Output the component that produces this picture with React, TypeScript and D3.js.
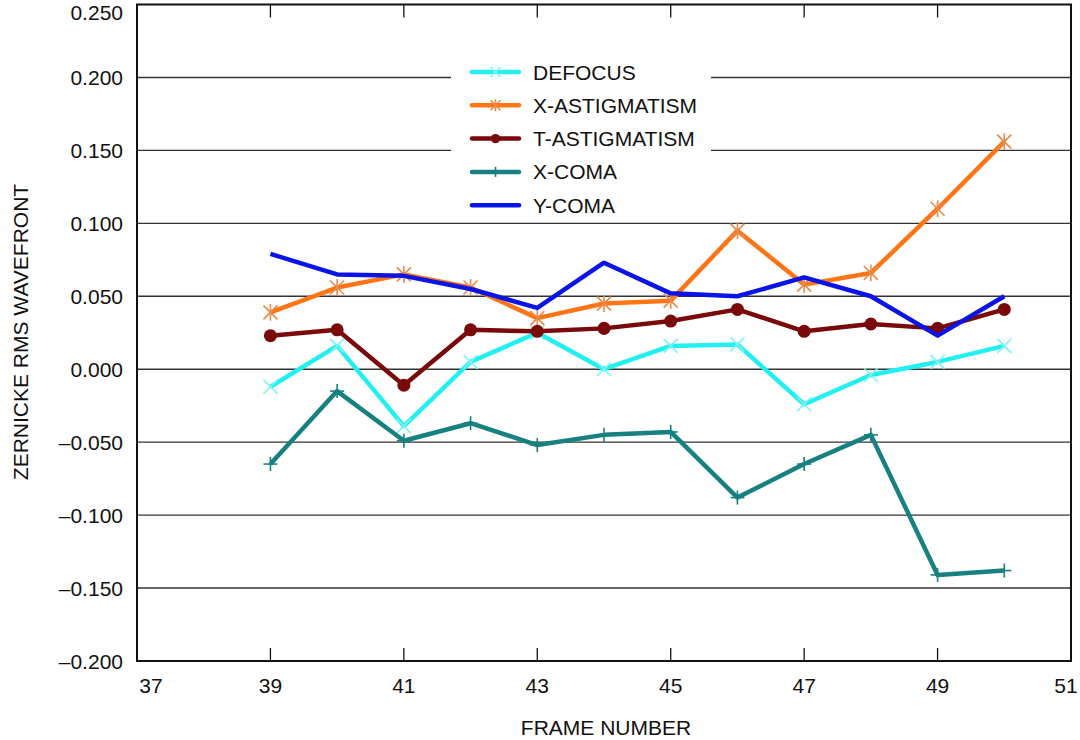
import React, { useEffect, useRef } from "react";
import * as d3 from "d3";

const frames = [39, 40, 41, 42, 43, 44, 45, 46, 47, 48, 49, 50];
const defocus = [-0.012, 0.016, -0.039, 0.005, 0.025, 0.0, 0.016, 0.017, -0.024, -0.004, 0.005, 0.016];
const xAstig = [0.039, 0.056, 0.065, 0.056, 0.035, 0.045, 0.047, 0.095, 0.058, 0.066, 0.11, 0.156];
const tAstig = [0.023, 0.027, -0.011, 0.027, 0.026, 0.028, 0.033, 0.041, 0.026, 0.031, 0.028, 0.041];
const xComa = [-0.065, -0.015, -0.049, -0.037, -0.052, -0.045, -0.043, -0.088, -0.065, -0.045, -0.141, -0.138];
const yComa = [0.079, 0.065, 0.064, 0.055, 0.042, 0.073, 0.052, 0.05, 0.063, 0.05, 0.023, 0.05];

const xTicks = [37, 39, 41, 43, 45, 47, 49, 51];
const yTicks = [0.25, 0.2, 0.15, 0.1, 0.05, 0, -0.05, -0.1, -0.15, -0.2];

const seriesNames = ["DEFOCUS", "X-ASTIGMATISM", "T-ASTIGMATISM", "X-COMA", "Y-COMA"];
const seriesValues = [defocus, xAstig, tAstig, xComa, yComa];
const seriesColors = ["#22f0f0", "#ff7414", "#7a0a0a", "#178080", "#0a14e6"];
const markerColors = ["#7ff4f4", "#e88a4a", "#7a0a0a", "#178080", "none"];
const markerKinds = ["x", "asterisk", "dot", "plus", "none"];

const W = 1080;
const H = 740;

function drawMarker(g: any, kind: string, cx: number, cy: number, color: string, s: number) {
  if (kind === "none") return;
  if (kind === "dot") {
    g.append("circle").attr("cx", cx).attr("cy", cy).attr("r", s * 0.93).attr("fill", color);
    return;
  }
  let segs: number[][] = [];
  if (kind === "x") segs = [[-s, -s, s, s], [-s, s, s, -s]];
  if (kind === "plus") segs = [[-s, 0, s, 0], [0, -s, 0, s]];
  if (kind === "asterisk") segs = [[-s, -s, s, s], [-s, s, s, -s], [0, -s * 1.2, 0, s * 1.2]];
  segs.forEach((q) => {
    g.append("line")
      .attr("x1", cx + q[0]).attr("y1", cy + q[1])
      .attr("x2", cx + q[2]).attr("y2", cy + q[3])
      .attr("stroke", color).attr("stroke-width", 1.6);
  });
}

function App() {
  const ref = useRef<SVGSVGElement>(null);

  useEffect(() => {
    const svg = d3.select(ref.current);
    svg.selectAll("*").remove();

    const left = 137, right = 1071, top = 4.5, bottom = 661;
    const x = d3.scaleLinear().domain([37, 51]).range([left, right]);
    const y = d3.scaleLinear().domain([-0.2, 0.25]).range([bottom, top]);
    const font = "'Liberation Sans', Arial, Helvetica, sans-serif";
    const fs = 21;

    svg.append("rect").attr("width", W).attr("height", H).attr("fill", "#fff");

    // gridlines
    svg.append("g")
      .selectAll("line")
      .data(yTicks.filter((t) => t !== 0.25 && t !== -0.2))
      .join("line")
      .attr("x1", left).attr("x2", right)
      .attr("y1", (d) => y(d)).attr("y2", (d) => y(d))
      .attr("stroke", "#333").attr("stroke-width", 1.4);

    // tick marks inside, top and bottom
    xTicks.slice(1, -1).forEach((t) => {
      svg.append("line").attr("x1", x(t)).attr("x2", x(t)).attr("y1", bottom).attr("y2", bottom - 13)
        .attr("stroke", "#111").attr("stroke-width", 1.3);
      svg.append("line").attr("x1", x(t)).attr("x2", x(t)).attr("y1", top).attr("y2", top + 13)
        .attr("stroke", "#111").attr("stroke-width", 1.3);
    });

    // legend background (covers gridlines)
    svg.append("rect").attr("x", 451).attr("y", 56).attr("width", 260).attr("height", 162).attr("fill", "#fff");

    // series
    const line = d3.line<number>().x((d, i) => x(frames[i])).y((d) => y(d));
    seriesValues.forEach((vals, si) => {
      const g = svg.append("g");
      g.append("path")
        .attr("d", line(vals))
        .attr("fill", "none")
        .attr("stroke", seriesColors[si])
        .attr("stroke-width", 4.5)
        .attr("stroke-linejoin", "round");
      vals.forEach((v, i) => drawMarker(g, markerKinds[si], x(frames[i]), y(v), markerColors[si], 7));
    });

    // legend
    seriesNames.forEach((name, i) => {
      const ly = 72 + i * 33.3;
      const g = svg.append("g");
      g.append("line").attr("x1", 472).attr("x2", 519).attr("y1", ly).attr("y2", ly)
        .attr("stroke", seriesColors[i]).attr("stroke-width", 4.5).attr("stroke-linecap", "round");
      drawMarker(g, markerKinds[i], 495.5, ly, markerColors[i], 5);
      g.append("text").attr("x", 533).attr("y", ly).attr("dy", "0.36em")
        .attr("font-family", font).attr("font-size", fs).attr("fill", "#111")
        .text(name);
    });

    // frame
    svg.append("rect").attr("x", left).attr("y", top).attr("width", right - left).attr("height", bottom - top)
      .attr("fill", "none").attr("stroke", "#111").attr("stroke-width", 2);

    // y tick labels
    svg.append("g")
      .selectAll("text")
      .data(yTicks)
      .join("text")
      .attr("x", 123)
      .attr("y", (d) => Math.max(y(d), 12))
      .attr("dy", "0.36em")
      .attr("text-anchor", "end")
      .attr("font-family", font).attr("font-size", fs).attr("fill", "#111")
      .text((d) => (d < 0 ? "\u2013" : "") + d3.format(".3f")(Math.abs(d)));

    // x tick labels
    svg.append("g")
      .selectAll("text")
      .data(xTicks)
      .join("text")
      .attr("x", (d) => x(d) + (d === 37 ? 14 : d === 51 ? -5 : 0))
      .attr("y", 685)
      .attr("dy", "0.36em")
      .attr("text-anchor", "middle")
      .attr("font-family", font).attr("font-size", fs).attr("fill", "#111")
      .text((d) => String(d));

    // axis titles
    svg.append("text").attr("x", 606).attr("y", 727).attr("dy", "0.36em").attr("text-anchor", "middle")
      .attr("font-family", font).attr("font-size", 21).attr("fill", "#111").text("FRAME NUMBER");
    svg.append("text")
      .attr("transform", "translate(28,332) rotate(-90)")
      .attr("text-anchor", "middle")
      .attr("font-family", font).attr("font-size", 21).attr("fill", "#111").text("ZERNICKE RMS WAVEFRONT");
  }, []);

  return (
    <div>
      <svg ref={ref} width={W} height={H} style={{ position: "absolute", left: 0, top: 0 }} />
    </div>
  );
}

export default App;
